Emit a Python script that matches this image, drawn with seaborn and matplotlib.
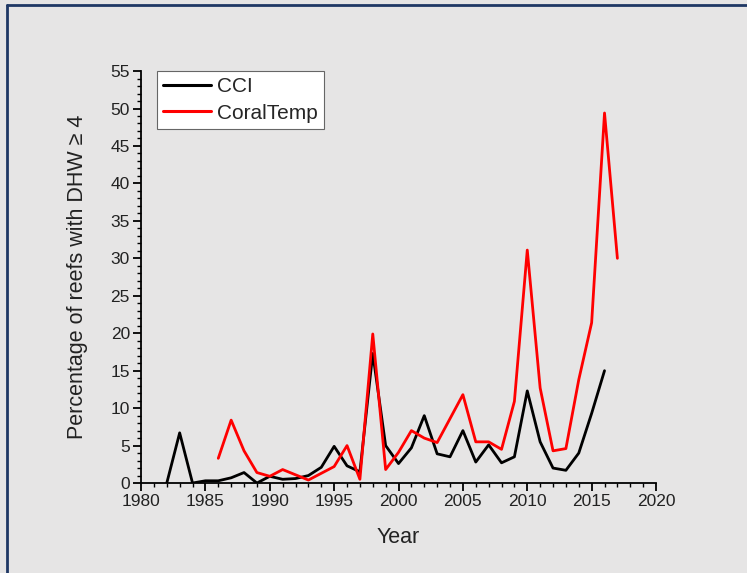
import numpy as np
import pandas as pd
import matplotlib
matplotlib.use("Agg")
import matplotlib.pyplot as plt
from matplotlib.lines import Line2D
from matplotlib.ticker import MultipleLocator
import seaborn as sns

cci_years = list(range(1982, 2017))
cci_values = [0, 6.7, 0, 0.3, 0.3, 0.7, 1.4, 0.0, 0.9, 0.5, 0.6, 1.0, 2.1, 4.9,
              2.3, 1.5, 17.3, 5.0, 2.6, 4.7, 9.0, 3.9, 3.5, 7.0, 2.8, 5.1, 2.7,
              3.5, 12.3, 5.5, 2.0, 1.7, 4.0, 9.3, 15.0]
ct_years = list(range(1986, 2018))
ct_values = [3.3, 8.4, 4.3, 1.4, 0.9, 1.8, 1.1, 0.4, 1.3, 2.2, 5.0, 0.5, 19.9,
             1.8, 4.1, 7.0, 6.0, 5.4, 8.6, 11.8, 5.5, 5.5, 4.5, 10.9, 31.1,
             12.7, 4.3, 4.6, 13.8, 21.4, 49.4, 30.0]
series_names = ["CCI", "CoralTemp"]
x_ticks = [1980, 1985, 1990, 1995, 2000, 2005, 2010, 2015, 2020]
y_ticks = list(range(0, 60, 5))

df = pd.concat([
    pd.DataFrame({"Year": cci_years, "Value": cci_values, "Series": series_names[0]}),
    pd.DataFrame({"Year": ct_years, "Value": ct_values, "Series": series_names[1]}),
])

sns.set_theme(style="ticks")
plt.rcParams["font.family"] = ["Liberation Sans", "DejaVu Sans"]
bg = "#e6e5e5"

fig = plt.figure(figsize=(7.47, 5.73), dpi=100, facecolor=bg)
ax = fig.add_axes([0.1888, 0.157, 0.8782 - 0.1888, 0.876 - 0.157])
ax.set_facecolor(bg)

sns.lineplot(data=df, x="Year", y="Value", hue="Series",
             palette={"CCI": "black", "CoralTemp": "red"},
             linewidth=2.0, ax=ax, estimator=None, sort=True)

ax.set_xlim(1980, 2020)
ax.set_ylim(0, 55)
ax.set_xticks(x_ticks)
ax.set_yticks(y_ticks)
ax.xaxis.set_minor_locator(MultipleLocator(1))
ax.yaxis.set_minor_locator(MultipleLocator(1))
ax.tick_params(axis="both", which="major", direction="out", length=6, width=1.3,
               labelsize=12.5, color="black", labelcolor="#222222", pad=2)
ax.tick_params(axis="both", which="minor", direction="out", length=3, width=1.0,
               color="black")
for s in ["top", "right"]:
    ax.spines[s].set_visible(False)
for s in ["left", "bottom"]:
    ax.spines[s].set_color("black")
    ax.spines[s].set_linewidth(1.3)

ax.set_xlabel("Year", fontsize=15.5, color="#222222", labelpad=13)
ax.set_ylabel("Percentage of reefs with DHW \u2265 4", fontsize=15.5, color="#222222", labelpad=16)

leg = ax.legend(loc="upper left", bbox_to_anchor=(0.031, 1.0), fontsize=15,
                frameon=True, fancybox=False, edgecolor="#666666",
                facecolor="white", framealpha=1, handlelength=2.3,
                handletextpad=0.3, borderpad=0.3, labelspacing=0.35,
                borderaxespad=0.0, title=None)
leg.get_frame().set_linewidth(0.8)
for line in leg.get_lines():
    line.set_linewidth(2.2)

# figure border (dark navy on top and left)
fig.add_artist(Line2D([0.0095, 1.0], [0.992, 0.992], transform=fig.transFigure,
                      color="#1f3864", linewidth=2))
fig.add_artist(Line2D([0.0095, 0.0095], [0.0, 0.992], transform=fig.transFigure,
                      color="#1f3864", linewidth=2))

fig.savefig("out.png", dpi=100, facecolor=bg)
